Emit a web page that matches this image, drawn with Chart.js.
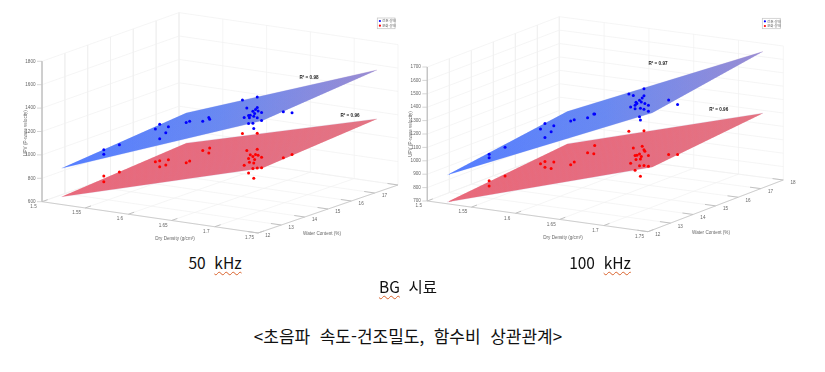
<!DOCTYPE html>
<html lang="ko">
<head>
<meta charset="UTF-8">
<title>초음파 속도-건조밀도, 함수비 상관관계</title>
<script src="https://cdn.jsdelivr.net/npm/chart.js"></script>
<style>
    html, body { margin: 0; padding: 0; background: #fff; width: 825px; height: 372px; overflow: hidden; }
    canvas { position: absolute; top: 0; }
    #chart50 { left: 0; }
    #chart100 { left: 400px; }
    .cap {
        position: absolute; transform: translate(-50%, -50%); white-space: pre; color: #111;
        font-family: "Noto Sans CJK KR", "Noto Sans", sans-serif; font-size: 15.5px; line-height: 20px;
    }
    .sp { text-decoration: underline wavy #d9622b 1px; text-underline-offset: 2px; }
</style>
</head>
<body>
<canvas id="chart50" width="405" height="250"></canvas>
<canvas id="chart100" width="425" height="250"></canvas>
<div class="cap" style="left:215px;top:262px">50  <span class="sp">kHz</span></div>
<div class="cap" style="left:600px;top:262px">100  <span class="sp">kHz</span></div>
<div class="cap" style="left:408px;top:286px"><span class="sp">BG</span>  시료</div>
<div class="cap" style="left:408px;top:336px;font-size:17px">&lt;초음파  속도-건조밀도,  함수비  상관관계&gt;</div>

<script>
// samples (same specimens in both panels)
const density = [1.545, 1.545, 1.563, 1.578, 1.583, 1.593, 1.590, 1.583, 1.587, 1.591, 1.606, 1.613, 1.614, 1.665, 1.682, 1.670, 1.682, 1.680, 1.683, 1.674, 1.677, 1.687, 1.672, 1.679, 1.673, 1.678, 1.667, 1.682, 1.687, 1.677, 1.672, 1.678, 1.672, 1.682];
const water = [13, 13, 13, 14, 14, 14, 14, 14, 15, 15, 15, 15, 15, 14.5, 14.5, 14.5, 14.5, 14.5, 14.5, 14.5, 14.5, 14.5, 14.5, 14.5, 14.5, 14.5, 14.5, 14.5, 14.5, 14.5, 14.5, 14.5, 16, 16];
const velBlue50 = [1024, 984, 1085, 1166, 1212, 1202, 1147, 1089, 1164, 1179, 1195, 1234, 1221, 1473, 1519, 1412, 1428, 1409, 1400, 1354, 1391, 1391, 1349, 1373, 1330, 1349, 1326, 1340, 1323, 1288, 1280, 1244, 1279, 1281];
const velRed50 = [799, 750, 852, 887, 901, 920, 871, 849, 818, 838, 945, 931, 975, 1188, 1208, 1048, 1071, 1025, 1022, 1015, 1004, 1009, 982, 980, 951, 950, 919, 912, 918, 901, 858, 820, 886, 924];
const velBlue100 = [1027, 1002, 1096, 1183, 1229, 1220, 1172, 1123, 1188, 1201, 1229, 1262, 1264, 1491, 1544, 1483, 1493, 1475, 1435, 1427, 1454, 1426, 1412, 1443, 1436, 1395, 1396, 1392, 1381, 1332, 1387, 1309, 1356, 1331];
const velRed100 = [830, 791, 881, 924, 944, 949, 898, 902, 861, 885, 968, 966, 1029, 1212, 1232, 1092, 1090, 1114, 1079, 1041, 1054, 1051, 1037, 1037, 1008, 1017, 975, 972, 971, 966, 927, 888, 949, 958];

// fitted surfaces, corners in order: near-left, near-right, far-right, far-left
const planeDensity = [1.52, 1.75, 1.75, 1.52];
const planeWater = [12.1, 12.2, 17.1, 17.54];
const planeBlue50 = [900, 1548, 1644, 995];
const planeRed50 = [657, 1142, 1226, 738];
const planeBlue100 = [907, 1575, 1716, 1038];
const planeRed100 = [705, 1170, 1256, 797];

// ticks
const densityTicks = [1.5, 1.55, 1.6, 1.65, 1.7, 1.75];
const waterTicks = [12, 13, 14, 15, 16, 17, 18];
const velTicks50 = [600, 800, 1000, 1200, 1400, 1600, 1800];
const velTicks100 = [700, 800, 900, 1000, 1100, 1200, 1300, 1400, 1500, 1600, 1700];
const legendLabels = ['건조 상태', '포화 상태'];

const BLUE = '#0000ff', RED = '#ff0000';
const GRID = '#f0f0f0', AXIS = '#c4c4c4', TEXT = '#666';
const STRIPES = 36;

// view of each panel: where the floor corners land, in page pixels
const view50 = {
    canvas: 'chart50', xMin: 0, xMax: 405,
    A: [42, 201.7], B: [258, 233], C: [398, 185], D: [179, 153],
    vMin: 600, pxPerV: 0.117, velTicks: velTicks50,
    blue: velBlue50, red: velRed50, planeBlue: planeBlue50, planeRed: planeRed50,
    r2: [['R² = 0.98', 309, 77.3], ['R² = 0.96', 350, 115.7]],
    legendBox: [377.3, 18, 17.7, 10.7],
    densityTitle: [175, 239], waterTitle: [322, 234], velTitle: [26, 133]
};
const view100 = {
    canvas: 'chart100', xMin: 400, xMax: 825,
    A: [427.3, 201], B: [648, 231.7], C: [783.3, 180], D: [559.3, 150.7],
    vMin: 700, pxPerV: 0.134, velTicks: velTicks100,
    blue: velBlue100, red: velRed100, planeBlue: planeBlue100, planeRed: planeRed100,
    r2: [['R² = 0.97', 658, 63.3], ['R² = 0.96', 718.7, 110]],
    legendBox: [762.3, 18.3, 18, 10.4],
    densityTitle: [563, 238], waterTitle: [711, 233], velTitle: [411, 134]
};

function project(view, d, w, v) {
    const u = (d - 1.5) / 0.25, t = (w - 12) / 6;
    const bl = i => view.A[i] + u * (view.B[i] - view.A[i]) + t * (view.D[i] - view.A[i]) +
        u * t * (view.C[i] - view.B[i] - view.D[i] + view.A[i]);
    return { x: bl(0), y: bl(1) - (v - view.vMin) * view.pxPerV };
}

function lineSet(pts, color, width, order) {
    return { data: pts, showLine: true, borderColor: color, borderWidth: width, pointRadius: 0, tension: 0, fill: false, order: order };
}

function gridSets(view) {
    const sets = [];
    const top = view.velTicks[view.velTicks.length - 1], bot = view.vMin;
    view.velTicks.forEach(v => {
        sets.push(lineSet([project(view, 1.5, 12, v), project(view, 1.5, 18, v), project(view, 1.75, 18, v)], GRID, 0.7, 90));
    });
    waterTicks.forEach(w => {
        sets.push(lineSet([project(view, 1.5, w, top), project(view, 1.5, w, bot), project(view, 1.75, w, bot)], GRID, 0.7, 90));
    });
    densityTicks.forEach(d => {
        sets.push(lineSet([project(view, d, 12, bot), project(view, d, 18, bot), project(view, d, 18, top)], GRID, 0.7, 90));
    });
    // axis lines and tick marks
    sets.push(lineSet([project(view, 1.5, 12, top), project(view, 1.5, 12, bot), project(view, 1.75, 12, bot), project(view, 1.75, 18, bot)], AXIS, 0.8, 80));
    view.velTicks.forEach(v => {
        const p = project(view, 1.5, 12, v);
        sets.push(lineSet([p, { x: p.x - 5, y: p.y }], AXIS, 0.7, 80));
    });
    densityTicks.forEach(d => {
        sets.push(lineSet([project(view, d, 12, bot), project(view, d, 12.25, bot)], '#aaa', 0.7, 80));
    });
    waterTicks.forEach(w => {
        sets.push(lineSet([project(view, 1.75, w, bot), project(view, 1.738, w, bot)], '#aaa', 0.7, 80));
    });
    return sets;
}

function sweep(ctx, view, corners, stops) {
    // colour runs from the near-left corner to the far tip of the surface
    const a = project(view, planeDensity[0], planeWater[0], corners[0]);
    const b = project(view, planeDensity[2], planeWater[2], corners[2]);
    const g = ctx.chart.ctx.createLinearGradient(a.x - view.xMin, 0, b.x - view.xMin, 0);
    stops.forEach((col, i) => g.addColorStop(i / (stops.length - 1), col));
    return g;
}

function surfaceSets(view, corners, fillStops, lineStops) {
    const c = corners.map((v, i) => project(view, planeDensity[i], planeWater[i], v));
    const upper = lineSet([c[0], c[3], c[2]], 'transparent', 0, 50);
    upper.fill = '+1';
    upper.backgroundColor = ctx => sweep(ctx, view, corners, fillStops);
    const lower = lineSet([c[0], c[1], c[2]], 'transparent', 0, 50);
    const sets = [upper, lower];
    for (let i = 0; i <= STRIPES; i++) {
        const s = i / STRIPES;
        const a = { x: c[0].x + s * (c[3].x - c[0].x), y: c[0].y + s * (c[3].y - c[0].y) };
        const b = { x: c[1].x + s * (c[2].x - c[1].x), y: c[1].y + s * (c[2].y - c[1].y) };
        const st = lineSet([a, b], null, 0.6, 40);
        st.borderColor = ctx => sweep(ctx, view, corners, lineStops);
        sets.push(st);
    }
    return sets;
}

function pointSet(view, vel, color) {
    return {
        data: vel.map((v, i) => project(view, density[i], water[i], v)),
        showLine: false, pointStyle: 'circle', pointRadius: 1.5, pointBorderWidth: 0,
        pointBackgroundColor: color, order: 1
    };
}

// tick labels, axis titles, R2 notes and legend
const textPlugin = {
    id: 'textPlugin',
    afterDatasetsDraw(chart) {
        const view = chart.options.plugins.textPlugin.view;
        const g = chart.ctx;
        const X = chart.scales.x, Y = chart.scales.y;
        const put = (str, x, y, font, color, align) => {
            g.font = font; g.fillStyle = color; g.textAlign = align || 'center'; g.textBaseline = 'middle';
            g.fillText(str, X.getPixelForValue(x), Y.getPixelForValue(y));
        };
        const small = '4.6px "Liberation Sans"';
        g.save();
        view.velTicks.forEach(v => {
            const p = project(view, 1.5, 12, v);
            put(String(v), p.x - 6.5, p.y, small, TEXT, 'right');
        });
        densityTicks.forEach(d => {
            const p = project(view, d, 12, view.vMin);
            put(String(d), p.x - 8.5, p.y + 5, small, TEXT);
        });
        waterTicks.forEach(w => {
            const p = project(view, 1.75, w, view.vMin);
            put(String(w), p.x + 9.8, p.y + 3.2, small, TEXT);
        });
        put('Dry Density (g/cm³)', view.densityTitle[0], view.densityTitle[1], small, TEXT);
        put('Water Content (%)', view.waterTitle[0], view.waterTitle[1], small, TEXT);
        g.save();
        g.translate(X.getPixelForValue(view.velTitle[0]), Y.getPixelForValue(view.velTitle[1]));
        g.rotate(-Math.PI / 2);
        g.font = small; g.fillStyle = TEXT; g.textAlign = 'center'; g.textBaseline = 'middle';
        g.fillText('UPV (P-wave velocity)', 0, 0);
        g.restore();
        view.r2.forEach(n => put(n[0], n[1], n[2], 'bold 4.6px "Liberation Sans"', '#222'));
        // legend
        const [lx, ly, lw, lh] = view.legendBox;
        const bx = X.getPixelForValue(lx), by = Y.getPixelForValue(ly);
        g.fillStyle = '#fff'; g.strokeStyle = '#c4c4c4'; g.lineWidth = 0.7;
        g.fillRect(bx, by, lw, lh); g.strokeRect(bx, by, lw, lh);
        [BLUE, RED].forEach((col, i) => {
            const ey = by + 3 + i * 4.7;
            g.fillStyle = col;
            g.beginPath(); g.arc(bx + 2.6, ey, 1.1, 0, Math.PI * 2); g.fill();
            g.font = '3.6px "Noto Sans CJK KR"'; g.fillStyle = '#666'; g.textAlign = 'left'; g.textBaseline = 'middle';
            g.fillText(legendLabels[i], bx + 4.6, ey);
        });
        g.restore();
    }
};

function drawPanel(view) {
    const datasets = [].concat(
        gridSets(view),
        surfaceSets(view, view.planeBlue, ['#4f78ff', '#5f88f8', '#8f92e0'], ['rgba(100,140,255,0.35)', 'rgba(130,140,225,0.4)', 'rgba(175,130,185,0.5)']),
        surfaceSets(view, view.planeRed, ['#f8585f', '#f85e66', '#f8666c'], ['rgba(190,150,195,0.5)', 'rgba(180,145,195,0.5)', 'rgba(175,150,190,0.5)']),
        [pointSet(view, view.blue, BLUE), pointSet(view, view.red, RED)]
    );
    new Chart(document.getElementById(view.canvas), {
        type: 'scatter',
        data: { datasets: datasets },
        plugins: [textPlugin],
        options: {
            responsive: false,
            animation: false,
            layout: { padding: 0, autoPadding: false },
            scales: {
                x: { type: 'linear', display: false, min: view.xMin, max: view.xMax },
                y: { type: 'linear', display: false, min: 0, max: 250, reverse: true }
            },
            plugins: { legend: { display: false }, tooltip: { enabled: false }, textPlugin: { view: view } }
        }
    });
}

drawPanel(view50);
drawPanel(view100);
</script>
</body>
</html>
